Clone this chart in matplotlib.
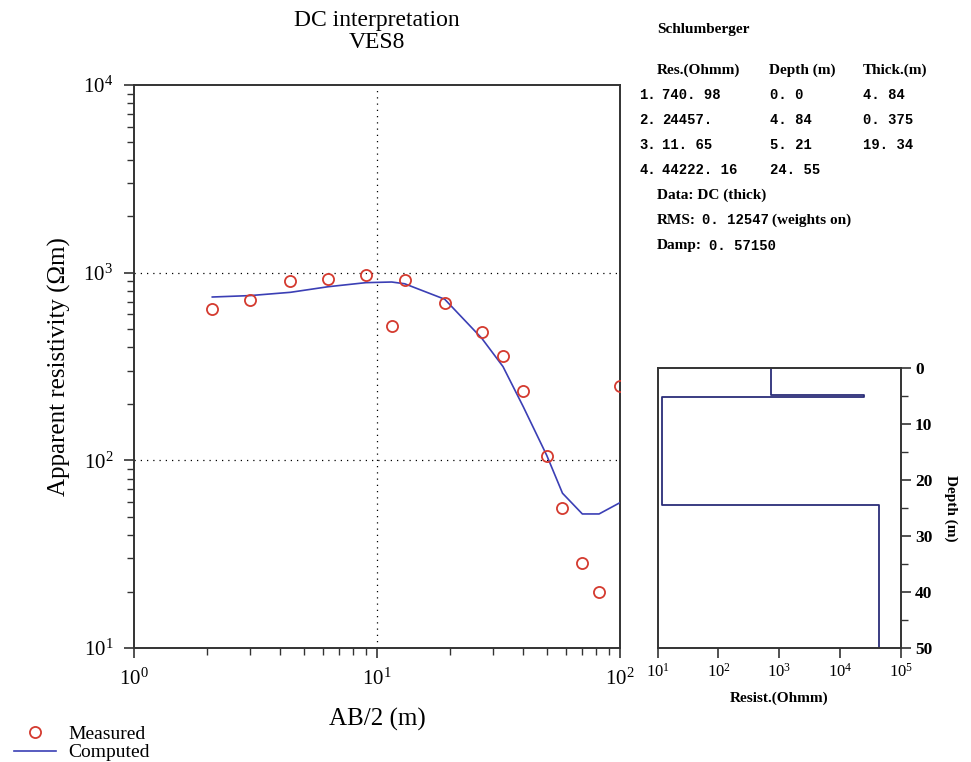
import matplotlib
matplotlib.use('Agg')
import matplotlib.pyplot as plt
from matplotlib.ticker import LogLocator, NullFormatter, MultipleLocator
import numpy as np

plt.rcParams['font.family'] = ['Liberation Serif', 'DejaVu Serif']
plt.rcParams['mathtext.fontset'] = 'stix'

# sounding data, AB/2 (m) vs apparent resistivity (Ohm m)
ab2 = [2.1, 3.0, 4.4, 6.3, 9.0, 11.5, 13.0, 19.0, 27.0, 33.0, 40.0, 50.0, 58.0, 70.0, 82.0, 100.0]
rho_measured = [638, 715, 903, 929, 976, 520, 915, 692, 485, 360, 233, 106, 55.6, 28.3, 20.0, 249]
rho_computed = [742, 755, 786, 842, 885, 892, 873, 722, 447, 316, 193, 106, 66.8, 51.8, 51.8, 59.5]

# layered model
layer_res = [740.98, 24457.0, 11.65, 44222.16]
layer_top = [0.0, 4.84, 5.21, 24.55]
layer_thick = ['4. 84', '0. 375', '19. 34', '']
res_labels = ['740. 98', '24457.', '11. 65', '44222. 16']
depth_labels = ['0. 0', '4. 84', '5. 21', '24. 55']
max_depth = 50

fig = plt.figure(figsize=(9.71, 7.62), dpi=100)

# ---- sounding curve ----
ax = fig.add_axes([0.138, 0.1496, 0.5005, 0.7388])
ax.loglog(ab2, rho_computed, color='#3b3fb5', lw=1.2, zorder=3)
ax.loglog(ab2, rho_measured, 'o', mfc='none', mec='#d43a2f', ms=8, mew=1.3, zorder=4, clip_on=True)
ax.set_xlim(1, 100)
ax.set_ylim(10, 1e4)
for v in [100, 1000]:
    ax.axhline(v, color='k', ls=(0, (1, 4)), lw=0.9, zorder=1)
ax.axvline(10, color='k', ls=(0, (1, 4)), lw=0.9, zorder=1)

for s in ax.spines.values():
    s.set_linewidth(1.4)
    s.set_color('#333333')
ax.tick_params(which='both', direction='out', top=False, right=False, labelsize=15, color='#333333')
ax.tick_params(which='major', length=7, width=1.2, pad=8)
ax.tick_params(which='minor', length=5, width=1.0)
ax.xaxis.set_minor_locator(LogLocator(base=10, subs=np.arange(2, 10)))
ax.yaxis.set_minor_locator(LogLocator(base=10, subs=np.arange(2, 10)))
ax.xaxis.set_minor_formatter(NullFormatter())
ax.yaxis.set_minor_formatter(NullFormatter())
ax.set_xlabel('AB/2 (m)', fontsize=18, labelpad=13)
ax.set_ylabel('Apparent resistivity (Ωm)', fontsize=18, labelpad=9)
ax.set_title('DC interpretation\nVES8', fontsize=17, pad=27, linespacing=1.05)

# ---- layered model panel ----
ax2 = fig.add_axes([0.6773, 0.1496, 0.2506, 0.3675])
step_x = [layer_res[0]]
step_y = [layer_top[0]]
for i in range(1, len(layer_res)):
    step_x += [layer_res[i - 1], layer_res[i]]
    step_y += [layer_top[i], layer_top[i]]
step_x.append(layer_res[-1])
step_y.append(max_depth)
ax2.semilogx(step_x, step_y, color='#2b2d78', lw=1.3)
ax2.set_xlim(10, 1e5)
ax2.set_ylim(max_depth, 0)
for s in ax2.spines.values():
    s.set_linewidth(1.4)
    s.set_color('#333333')
ax2.yaxis.tick_right()
ax2.yaxis.set_label_position('right')
ax2.yaxis.set_major_locator(MultipleLocator(10))
ax2.yaxis.set_minor_locator(MultipleLocator(5))
ax2.xaxis.set_major_locator(LogLocator(base=10, numticks=10))
ax2.xaxis.set_minor_locator(LogLocator(base=10, subs=[]))
ax2.tick_params(which='both', direction='out', top=False, left=False, color='#333333')
ax2.tick_params(which='major', length=7, width=1.2, labelsize=12)
ax2.tick_params(which='minor', length=5, width=1.0)
ax2.tick_params(axis='y', labelsize=12.5, pad=3)
ax2.set_xlabel('Resist.(Ohmm)', fontsize=11, fontweight='bold', labelpad=8)
ax2.set_ylabel('Depth (m)', fontsize=11, fontweight='bold', rotation=-90, labelpad=18)
for lab in ax2.get_yticklabels():
    lab.set_fontweight('bold')

# ---- model table ----
def fx(px):
    return px / 971

def fy(px):
    return 1 - px / 762

kw = dict(fontsize=11, fontweight='bold', va='center', ha='left', transform=fig.transFigure)
kn = dict(fontsize=10, fontweight='bold', va='center', ha='left', transform=fig.transFigure,
          family='Liberation Mono')
fig.text(fx(657), fy(30), 'Schlumberger', **kw)
fig.text(fx(657), fy(70), 'Res.(Ohmm)', **kw)
fig.text(fx(769), fy(70), 'Depth (m)', **kw)
fig.text(fx(863), fy(70), 'Thick.(m)', **kw)
row_y = [95, 120, 145, 170]
for i in range(len(layer_res)):
    fig.text(fx(639), fy(row_y[i]), f'{i + 1}.', **kn)
    fig.text(fx(662), fy(row_y[i]), res_labels[i], **kn)
    fig.text(fx(770), fy(row_y[i]), depth_labels[i], **kn)
    fig.text(fx(863), fy(row_y[i]), layer_thick[i], **kn)
fig.text(fx(657), fy(195), 'Data: DC (thick)', **kw)
fig.text(fx(657), fy(220), 'RMS:', **kw)
fig.text(fx(702), fy(220), '0. 12547', **kn)
fig.text(fx(772), fy(220), '(weights on)', **kw)
fig.text(fx(657), fy(246), 'Damp:', **kw)
fig.text(fx(709), fy(246), '0. 57150', **kn)

# ---- legend ----
h1, = ax.plot([], [], 'o', mfc='none', mec='#d43a2f', ms=8, mew=1.3)
h2, = ax.plot([], [], color='#3b3fb5', lw=1.2)
fig.legend([h1, h2], ['Measured', 'Computed'], loc='lower left', bbox_to_anchor=(0.0, -0.017),
           frameon=False, fontsize=14, handlelength=2.2, handletextpad=0.6,
           labelspacing=0.05, borderpad=0.2)

fig.savefig('out.png', dpi=100)
